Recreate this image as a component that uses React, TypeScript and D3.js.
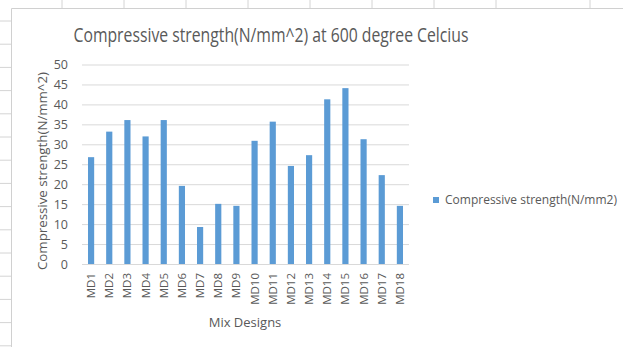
import React from "react";
import * as d3 from "d3";

const categories = ["MD1","MD2","MD3","MD4","MD5","MD6","MD7","MD8","MD9","MD10","MD11","MD12","MD13","MD14","MD15","MD16","MD17","MD18"];
const values = [26.9, 33.3, 36.2, 32.1, 36.2, 19.7, 9.4, 15.2, 14.7, 31.0, 35.8, 24.7, 27.4, 41.4, 44.2, 31.4, 22.4, 14.7];
const yTicks = [0, 5, 10, 15, 20, 25, 30, 35, 40, 45, 50];
const seriesName = "Compressive strength(N/mm2)";
const title = "Compressive strength(N/mm^2) at 600 degree Celcius";
const yTitle = "Compressive strength(N/mm^2)";
const xTitle = "Mix Designs";
const sheetCols = [62, 124, 186, 248, 310, 372, 434, 496, 590];
const sheetRows = d3.range(0, 15).map((i) => 21 + i * 23.2);

export default function App() {
  const W = 623, H = 347;
  const left = 82, right = 409, top = 65, bottom = 264.5;
  const x = d3.scaleBand<string>().domain(categories).range([left, right]).paddingInner(0.66).paddingOuter(0.33);
  const y = d3.scaleLinear().domain([0, 50]).range([bottom, top]);
  const font = "'Open Sans', 'Noto Sans', sans-serif";
  const txt = "#595959";
  return (
    <svg width={W} height={H} style={{ position: "absolute", left: 0, top: 0, background: "#fff" }} fontFamily={font}>
      <rect x={0} y={0} width={W} height={H} fill="#fff" />
      {sheetCols.map((c) => (
        <line key={"c" + c} x1={c} x2={c} y1={0} y2={8} stroke="#d4d4d4" strokeWidth={1} />
      ))}
      {sheetRows.map((r) => (
        <line key={"r" + r} x1={0} x2={11} y1={r} y2={r} stroke="#d4d4d4" strokeWidth={1} />
      ))}
      <line x1={11.5} x2={11.5} y1={8.5} y2={H} stroke="#d0d0d0" strokeWidth={1} />
      <line x1={11.5} x2={W} y1={8.5} y2={8.5} stroke="#d0d0d0" strokeWidth={1} />
      <text x={271} y={42} textAnchor="middle" fontSize={19.5} fill={txt} textLength={395} lengthAdjust="spacingAndGlyphs">{title}</text>
      {yTicks.map((t) => (
        <g key={t}>
          <line x1={left} x2={right} y1={y(t)} y2={y(t)} stroke="#d9d9d9" strokeWidth={1} />
          <text x={68} y={y(t)} dy="0.35em" textAnchor="end" fontSize={12.5} fill={txt}>{t}</text>
        </g>
      ))}
      {categories.map((c, i) => (
        <rect key={c} x={x(c)} y={y(values[i])} width={x.bandwidth()} height={y(0) - y(values[i])} fill="#5b9bd5" />
      ))}
      <line x1={left} x2={right} y1={bottom} y2={bottom} stroke="#d9d9d9" strokeWidth={1} />
      {categories.map((c) => (
        <text key={"l" + c} transform={`translate(${x(c)! + x.bandwidth() / 2},${273}) rotate(-90)`} dy="0.35em" textAnchor="end" fontSize={11.5} fill={txt}>{c}</text>
      ))}
      <text transform={`translate(42,171) rotate(-90)`} dy="0.35em" textAnchor="middle" fontSize={13} fill={txt} textLength={198} lengthAdjust="spacingAndGlyphs">{yTitle}</text>
      <text x={245} y={327} textAnchor="middle" fontSize={13} fill={txt}>{xTitle}</text>
      <rect x={433} y={197} width={6} height={6} fill="#5b9bd5" />
      <text x={445} y={200} dy="0.35em" fontSize={12} fill={txt} textLength={172} lengthAdjust="spacingAndGlyphs">{seriesName}</text>
    </svg>
  );
}
